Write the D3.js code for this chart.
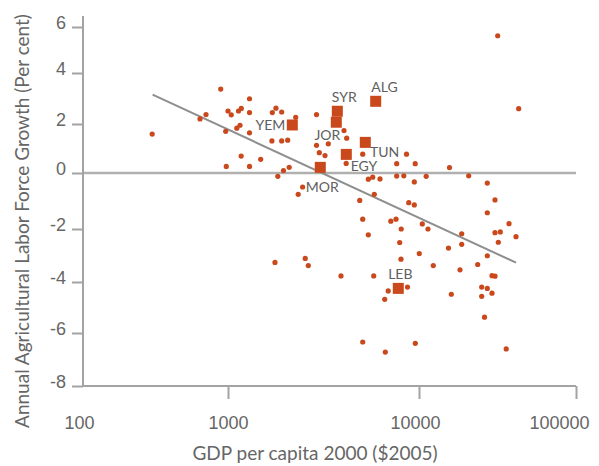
<!DOCTYPE html>
<html>
<head>
<meta charset="utf-8">
<script src="https://cdn.jsdelivr.net/npm/d3@7"></script>
<style>
  body { margin: 0; background: #fff; }
  svg { display: block; font-family: Lato, "Open Sans", sans-serif; }
  .tick text { fill: #666; font-size: 18px; }
  .title { fill: #666; font-size: 19px; }
  .code { fill: #606060; font-size: 14px; }
</style>
</head>
<body>
<svg id="chart" width="599" height="466"></svg>
<script>
// all countries: GDP per capita 2000 ($2005) and annual agricultural labour force growth (%)
const gdp = [300, 641, 705, 891, 964, 973, 1000, 1040, 1112, 1156, 1135, 1174, 1296, 1296, 1296,
  1172, 1296, 1483, 1706, 1783, 1910, 2262, 1698, 1910, 2054, 1823, 1952, 2091, 2331, 2458,
  2907, 2907, 3006, 3220, 3350, 4049, 4183, 4157, 5074, 8602, 7642, 9552, 15640, 5428, 5722,
  6249, 7642, 8326, 9450, 11110, 5834, 4894, 8836, 9450, 5074, 7118, 7578, 8069, 10496, 11410,
  5428, 7925, 10040, 8047, 12330, 15410, 2537, 2633, 1762, 3905, 5792, 8707, 6898, 6614, 16060,
  5074, 9563, 6662, 20730, 27230, 30480, 27230, 37430, 30480, 32950, 41480, 18710, 32000, 18710, 27230,
  23650, 18250, 29170, 30480, 25080, 27230, 29170, 25080, 26140, 35930, 31720, 43150];
const growth = [1.59, 2.20, 2.37, 3.37, 1.70, 0.27, 2.51, 2.36, 1.83, 1.95, 2.51, 2.61, 2.99, 2.45, 1.64,
  0.69, 0.27, 0.56, 2.45, 2.62, 2.47, 2.26, 1.31, 1.31, 1.34, -0.12, 0.10, 0.23, -0.76, -0.50,
  2.37, 1.13, 0.83, 0.71, 1.19, 1.73, 1.42, 0.39, 0.77, 0.77, 0.38, 0.38, 0.22, -0.22, -0.15,
  -0.21, -0.11, -0.10, -0.32, -0.12, -0.76, -0.98, -1.06, -1.14, -1.65, -1.72, -1.65, -2.00, -1.82, -2.00,
  -2.22, -2.51, -2.93, -3.14, -3.38, -2.72, -3.11, -3.38, -3.26, -3.77, -3.77, -4.20, -4.35, -4.68, -4.48,
  -6.34, -6.39, -6.72, -0.10, -0.36, -0.96, -1.42, -1.81, -2.14, -2.11, -2.29, -2.18, -2.50, -2.58, -3.01,
  -3.34, -3.54, -3.76, -3.78, -4.20, -4.25, -4.44, -4.56, -5.38, -6.60, 5.62, 2.60];

// Arab countries highlighted
const codes = ["YEM", "SYR", "JOR", "ALG", "TUN", "EGY", "MOR", "LEB"];
const arabGdp = [2171, 3736, 3690, 5933, 5234, 4163, 3042, 7791];
const arabGrowth = [1.96, 2.50, 2.07, 2.89, 1.25, 0.76, 0.23, -4.25];

// fitted trend line ends
const fitGdp = [302, 41480];
const fitGrowth = [3.15, -3.27];

const xTicks = [100, 1000, 10000, 100000];
const yTicks = [6, 4, 2, 0, -2, -4, -6, -8];

// label placement around each square: dx, dy, anchor
const labelPos = {
  YEM: [-7, 5, "end"], SYR: [-5.5, -9.6, "start"], JOR: [4, 17.7, "end"], ALG: [-4.4, -9.6, "start"],
  TUN: [4.7, 14.4, "start"], EGY: [4.4, 16.4, "start"], MOR: [2, 24.4, "middle"], LEB: [2, -9, "middle"]
};
const xLabelNudge = [-4, 0, -4, -17];

const svg = d3.select("#chart");
const x = d3.scaleLog().domain(xTicks).range([83, 228, 419, 576]);
const y = d3.scaleLinear().domain(yTicks).range([27, 73, 124, 173, 229, 282, 333, 386]);

const axisColor = "#a3a3a3";
const red = "#c9481c";

// zero line
svg.append("line")
  .attr("x1", x(100)).attr("x2", x(100000))
  .attr("y1", y(0)).attr("y2", y(0))
  .attr("stroke", "#b0b0b0").attr("stroke-width", 2.5);

// y axis
const yAxis = svg.append("g")
  .attr("transform", `translate(${x(100)},0)`)
  .call(d3.axisLeft(y).tickValues(yTicks).tickSize(11).tickPadding(6).tickFormat(d => String(d)));
yAxis.select(".domain").remove();
yAxis.selectAll(".tick line").attr("stroke", axisColor).attr("stroke-width", 2);
yAxis.selectAll(".tick text").attr("dy", "0.1em");
svg.append("line")
  .attr("x1", x(100)).attr("x2", x(100))
  .attr("y1", 16).attr("y2", y(-8))
  .attr("stroke", axisColor).attr("stroke-width", 2);

// x axis
const xAxis = svg.append("g")
  .attr("transform", `translate(0,${y(-8)})`)
  .call(d3.axisBottom(x).tickValues(xTicks).tickSize(13).tickPadding(17).tickFormat(d => String(d)));
xAxis.select(".domain").remove();
xAxis.selectAll(".tick line").attr("stroke", axisColor).attr("stroke-width", 2)
  .attr("opacity", d => d === 100 ? 0 : 1);
xAxis.selectAll(".tick text").attr("dx", (d, i) => xLabelNudge[i]);
svg.append("line")
  .attr("x1", x(100)).attr("x2", x(100000))
  .attr("y1", y(-8)).attr("y2", y(-8))
  .attr("stroke", axisColor).attr("stroke-width", 2);

// trend line
svg.append("line")
  .attr("x1", x(fitGdp[0])).attr("y1", y(fitGrowth[0]))
  .attr("x2", x(fitGdp[1])).attr("y2", y(fitGrowth[1]))
  .attr("stroke", "#8e8e8e").attr("stroke-width", 2);

// all countries
svg.append("g").selectAll("circle")
  .data(gdp)
  .join("circle")
  .attr("cx", d => x(d))
  .attr("cy", (d, i) => y(growth[i]))
  .attr("r", 2.6)
  .attr("fill", red);

// highlighted countries
const sq = 11;
svg.append("g").selectAll("rect")
  .data(codes)
  .join("rect")
  .attr("x", (d, i) => x(arabGdp[i]) - sq / 2)
  .attr("y", (d, i) => y(arabGrowth[i]) - sq / 2)
  .attr("width", sq).attr("height", sq)
  .attr("fill", red);

svg.append("g").selectAll("text")
  .data(codes)
  .join("text")
  .attr("class", "code")
  .attr("x", (d, i) => x(arabGdp[i]) + labelPos[d][0])
  .attr("y", (d, i) => y(arabGrowth[i]) + labelPos[d][1])
  .attr("text-anchor", d => labelPos[d][2])
  .text(d => d);

// axis titles
svg.append("text")
  .attr("class", "title")
  .attr("x", 315).attr("y", 460)
  .attr("text-anchor", "middle")
  .text("GDP per capita 2000 ($2005)");

svg.append("text")
  .attr("class", "title")
  .attr("transform", "translate(29,221) rotate(-90)")
  .attr("text-anchor", "middle")
  .text("Annual Agricultural Labor Force Growth (Per cent)");
</script>
</body>
</html>
